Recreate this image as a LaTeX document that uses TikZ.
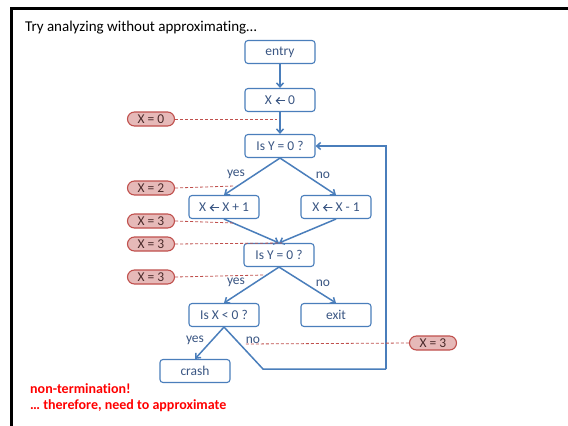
\documentclass[tikz,border=0pt]{standalone}
\usepackage{fontspec}
\setmainfont[Ligatures=NoCommon]{Carlito}
\usetikzlibrary{arrows.meta}
\definecolor{boxblue}{HTML}{4A7EBB}
\definecolor{txtblue}{HTML}{3A5683}
\definecolor{pillfill}{HTML}{E6B9B8}
\definecolor{pillred}{HTML}{C0504D}
\definecolor{pilltxt}{HTML}{4A2A2A}
\definecolor{noteRed}{HTML}{FF0000}
% assignment arrow drawn as a small barbed arrow
\newcommand{\assignarrow}{\tikz[baseline=-0.55ex,x=1pt,y=1pt]\draw[line width=1.1pt,line cap=round,{Straight Barb[length=3.2pt,width=6.5pt]}-] (0,0) -- (9,0);}
\begin{document}
\begin{tikzpicture}[x=1pt,y=-1pt,
  box/.style={draw=boxblue, line width=1.1pt, rounded corners=3pt, fill=white,
    minimum width=70pt, minimum height=23pt, inner sep=0pt, text=txtblue,
    font=\fontsize{13.5}{15}\selectfont},
  pill/.style={draw=pillred, line width=1.1pt, rounded corners=7pt, fill=pillfill,
    minimum width=47pt, minimum height=14pt, inner sep=0pt, text=pilltxt,
    font=\fontsize{13.5}{15}\selectfont},
  flow/.style={draw=boxblue, line width=1.5pt, -{Straight Barb[length=4pt,width=7pt]}},
  loopline/.style={draw=boxblue, line width=1.5pt},
  tag/.style={draw=pillred, line width=0.8pt, dash pattern=on 3pt off 2pt},
  lbl/.style={text=txtblue, font=\fontsize{13.5}{15}\selectfont, inner sep=0pt},
  note/.style={text=noteRed, font=\bfseries\fontsize{14}{16}\selectfont, anchor=west, inner sep=0pt}]
\useasboundingbox (0,0) rectangle (568,426);
\fill[white] (0,0) rectangle (568,426);

% slide frame
\draw[line width=2.4pt] (11.5,426) -- (11.5,8.5) -- (568,8.5);

% heading
\node[anchor=west, inner sep=0pt, font=\fontsize{15}{17}\selectfont] (title) at (25,28) {Try analyzing without approximating\dots};

% flowchart nodes
\node[box] (entry) at (280,52) {entry};
\node[box] (init) at (280,100) {X \assignarrow\ 0};
\node[box] (isy1) at (280,146) {Is Y = 0 ?};
\node[box] (inc) at (224,207) {X \assignarrow\ X + 1};
\node[box] (dec) at (336,207) {X \assignarrow\ X - 1};
\node[box] (isy2) at (279,255) {Is Y = 0 ?};
\node[box] (isx) at (224,315) {Is X < 0 ?};
\node[box] (exit) at (336,315) {exit};
\node[box] (crash) at (195,371) {crash};

% control flow
\draw[flow] (entry) -- (init);
\draw[flow] (init) -- (isy1);
\draw[flow] (isy1.south) -- (inc.north);
\draw[flow] (isy1.south) -- (dec.north);
\draw[flow] (inc.south) -- (isy2.north);
\draw[flow] (dec.south) -- (isy2.north);
\draw[flow] (isy2.south) -- (isx.north);
\draw[flow] (isy2.south) -- (exit.north);
\draw[flow] (isx.south) -- (crash.north);
\coordinate (bend) at (263,369);
\coordinate (corner) at (386,369);
\draw[loopline] (isx.south) -- (bend) -- (corner);
\draw[flow] (corner) |- (isy1.east);

% branch labels
\node[lbl] (y1) at (236,174) {yes};
\node[lbl] (n1) at (323,175) {no};
\node[lbl] (y2) at (236,282) {yes};
\node[lbl] (n2) at (323,283) {no};
\node[lbl] (y3) at (195,340) {yes};
\node[lbl] (n3) at (253,340) {no};

% abstract values
\node[pill] (v0) at (151,119) {X = 0};
\node[pill] (v1) at (151,188) {X = 2};
\node[pill] (v2) at (151,221) {X = 3};
\node[pill] (v3) at (151,244) {X = 3};
\node[pill] (v4) at (151,277) {X = 3};
\node[pill] (v5) at (433,343) {X = 3};

\coordinate (t0) at (277,119);
\coordinate (t1) at (234,186);
\coordinate (t2) at (234,223);
\coordinate (t3) at (282,243);
\coordinate (t4) at (264,275);
\coordinate (t5) at (245,344);
\draw[tag] (v0.east) -- (t0);
\draw[tag] (v1.east) -- (t1);
\draw[tag] (v2.east) -- (t2);
\draw[tag] (v3.east) -- (t3);
\draw[tag] (v4.east) -- (t4);
\draw[tag] (v5.west) -- (t5);

% conclusion
\node[note] (nt) at (30,389) {non-termination!};
\node[note] (ap) at (30,406) {\dots\ therefore, need to approximate};
\end{tikzpicture}
\end{document}
